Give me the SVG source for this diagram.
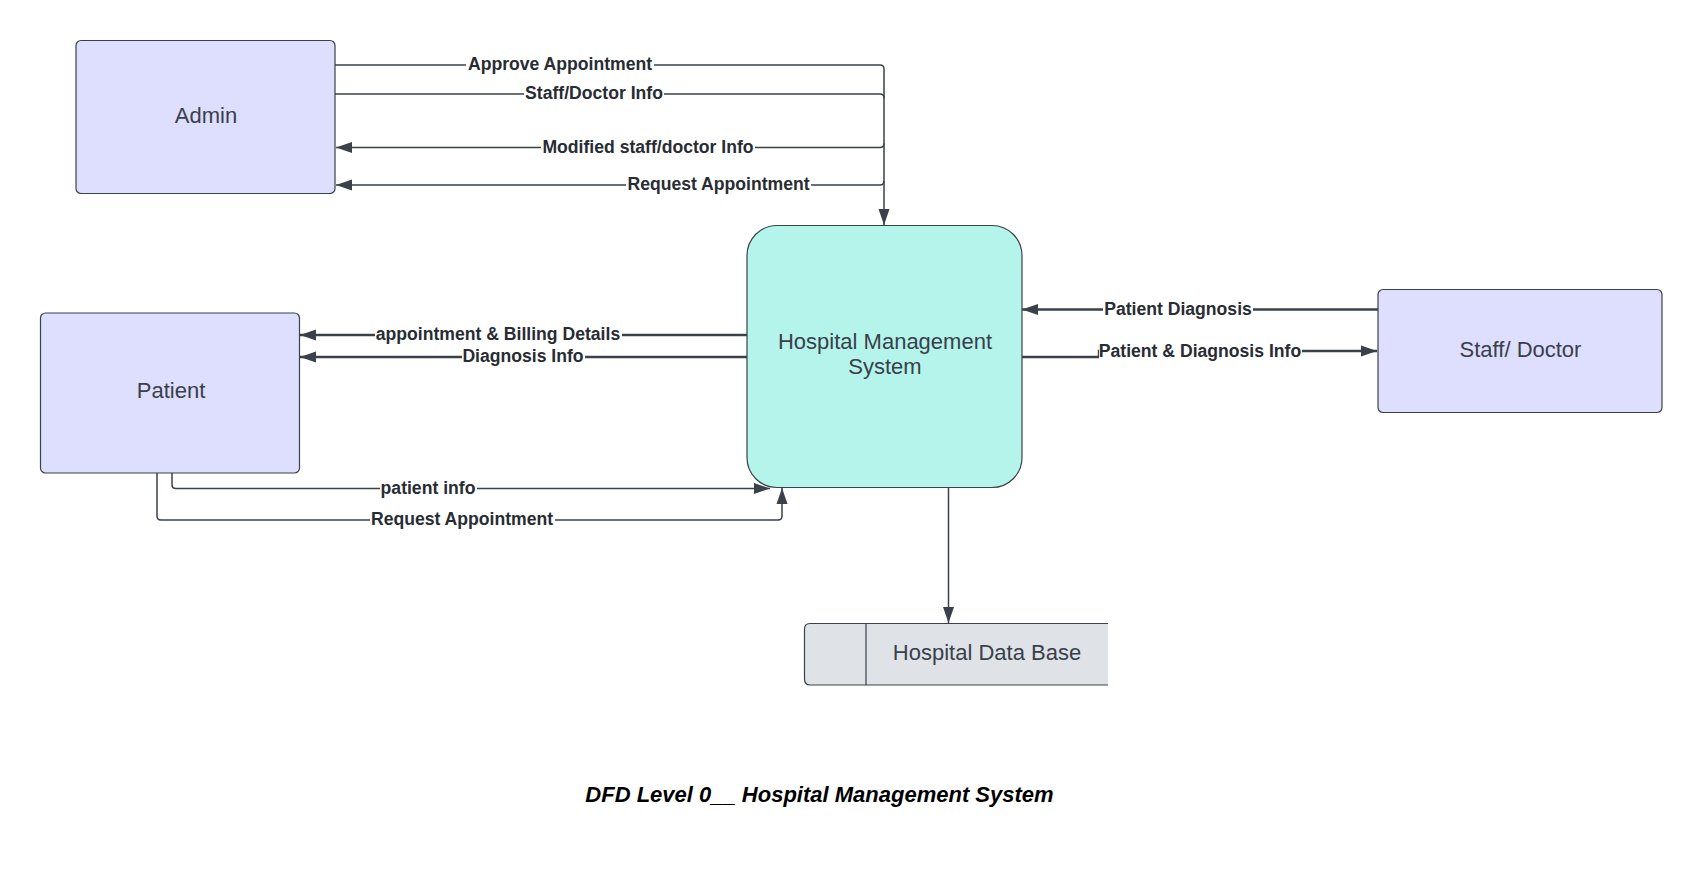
<svg xmlns="http://www.w3.org/2000/svg" width="1703" height="874" viewBox="0 0 1703 874">
<style>
.node{fill:#dedeff;stroke:#3a414a;stroke-width:1.2}
.ntext{font-family:"Liberation Sans",Arial,sans-serif;font-size:22px;fill:#39404a;text-anchor:middle}
.lbl{font-family:"Liberation Sans",Arial,sans-serif;font-size:17.6px;font-weight:bold;fill:#282c33;text-anchor:middle}
.bg{fill:#ffffff}
.thin{fill:none;stroke:#3a414a;stroke-width:1.5}
.thick{fill:none;stroke:#3a414a;stroke-width:2.4}
.title{font-family:"Liberation Sans",Arial,sans-serif;font-size:22px;font-weight:bold;font-style:italic;fill:#000;text-anchor:middle}
</style>
<defs>
<marker id="arr" markerUnits="userSpaceOnUse" markerWidth="16" markerHeight="12" refX="16" refY="6" orient="auto">
<path d="M0,0.5 L16,6 L0,11.5 z" fill="#3a414a"/>
</marker>
</defs>
<rect width="1703" height="874" fill="#ffffff"/>

<g id="connectors">
<path class="thin" d="M335,65 H880 Q884,65 884,69 V225" marker-end="url(#arr)"/>
<path class="thin" d="M335,94 H880 Q884,94 884,98"/>
<path class="thin" d="M884,143.5 Q884,147.5 880,147.5 H336" marker-end="url(#arr)"/>
<path class="thin" d="M884,181 Q884,185 880,185 H336" marker-end="url(#arr)"/>
<path class="thick" d="M747,335 H300" marker-end="url(#arr)"/>
<path class="thick" d="M747,357 H300" marker-end="url(#arr)"/>
<path class="thin" d="M172,473 V484.5 Q172,488.5 176,488.5 H770" marker-end="url(#arr)"/>
<path class="thin" d="M157,473 V516 Q157,520 161,520 H778 Q782,520 782,516 V488" marker-end="url(#arr)"/>
<path class="thick" d="M1378,309.5 H1022" marker-end="url(#arr)"/>
<path class="thick" d="M1022,357 H1099 V351 H1377" marker-end="url(#arr)"/>
<path class="thin" d="M948.5,488 V623" marker-end="url(#arr)"/>

<rect class="bg" x="466" y="55" width="188" height="20"/>
<text class="lbl" x="560" y="70">Approve Appointment</text>
<rect class="bg" x="524" y="84" width="140" height="20"/>
<text class="lbl" x="594" y="99">Staff/Doctor Info</text>
<rect class="bg" x="541" y="137.5" width="214" height="20"/>
<text class="lbl" x="648" y="152.5">Modified staff/doctor Info</text>
<rect class="bg" x="626" y="175" width="185" height="20"/>
<text class="lbl" x="718.5" y="190">Request Appointment</text>
<rect class="bg" x="375" y="325" width="247" height="20"/>
<text class="lbl" x="498" y="340">appointment &amp; Billing Details</text>
<rect class="bg" x="462" y="347" width="123" height="20"/>
<text class="lbl" x="523" y="362">Diagnosis Info</text>
<rect class="bg" x="380" y="478.5" width="97" height="20"/>
<text class="lbl" x="428" y="493.5">patient info</text>
<rect class="bg" x="370" y="510" width="185" height="20"/>
<text class="lbl" x="462" y="525">Request Appointment</text>
<rect class="bg" x="1103" y="299.5" width="150" height="20"/>
<text class="lbl" x="1178" y="314.5">Patient Diagnosis</text>
<rect class="bg" x="1099" y="342" width="203" height="20"/>
<text class="lbl" x="1200" y="357">Patient &amp; Diagnosis Info</text>
</g>

<g id="admin">
<rect class="node" x="76" y="40.5" width="259" height="153" rx="5"/>
<text class="ntext" x="206" y="123">Admin</text>
</g>

<g id="patient">
<rect class="node" x="40.5" y="313" width="259" height="160" rx="5"/>
<text class="ntext" x="171" y="398">Patient</text>
</g>

<g id="hms">
<rect x="747" y="225.5" width="275" height="262" rx="30" fill="#b5f4ea" stroke="#3a414a" stroke-width="1.2"/>
<text class="ntext" x="885" y="348.5">Hospital Management</text>
<text class="ntext" x="885" y="374">System</text>
</g>

<g id="staff">
<rect class="node" x="1378" y="289.5" width="284" height="123" rx="5"/>
<text class="ntext" x="1520.5" y="357">Staff/ Doctor</text>
</g>

<g id="database">
<path d="M1108,623.5 H810 Q804.5,623.5 804.5,629 V679 Q804.5,685 810,685 H1108 Z" fill="#dfe3e8"/>
<path d="M1108,623.5 H810 Q804.5,623.5 804.5,629 V679 Q804.5,685 810,685 H1108" fill="none" stroke="#3a414a" stroke-width="1.2"/>
<line x1="866" y1="623.5" x2="866" y2="685" stroke="#3a414a" stroke-width="1.2"/>
<text class="ntext" x="987" y="660">Hospital Data Base</text>
</g>

<g id="title">
<text class="title" x="819.5" y="802">DFD Level 0__ Hospital Management System</text>
</g>
</svg>
